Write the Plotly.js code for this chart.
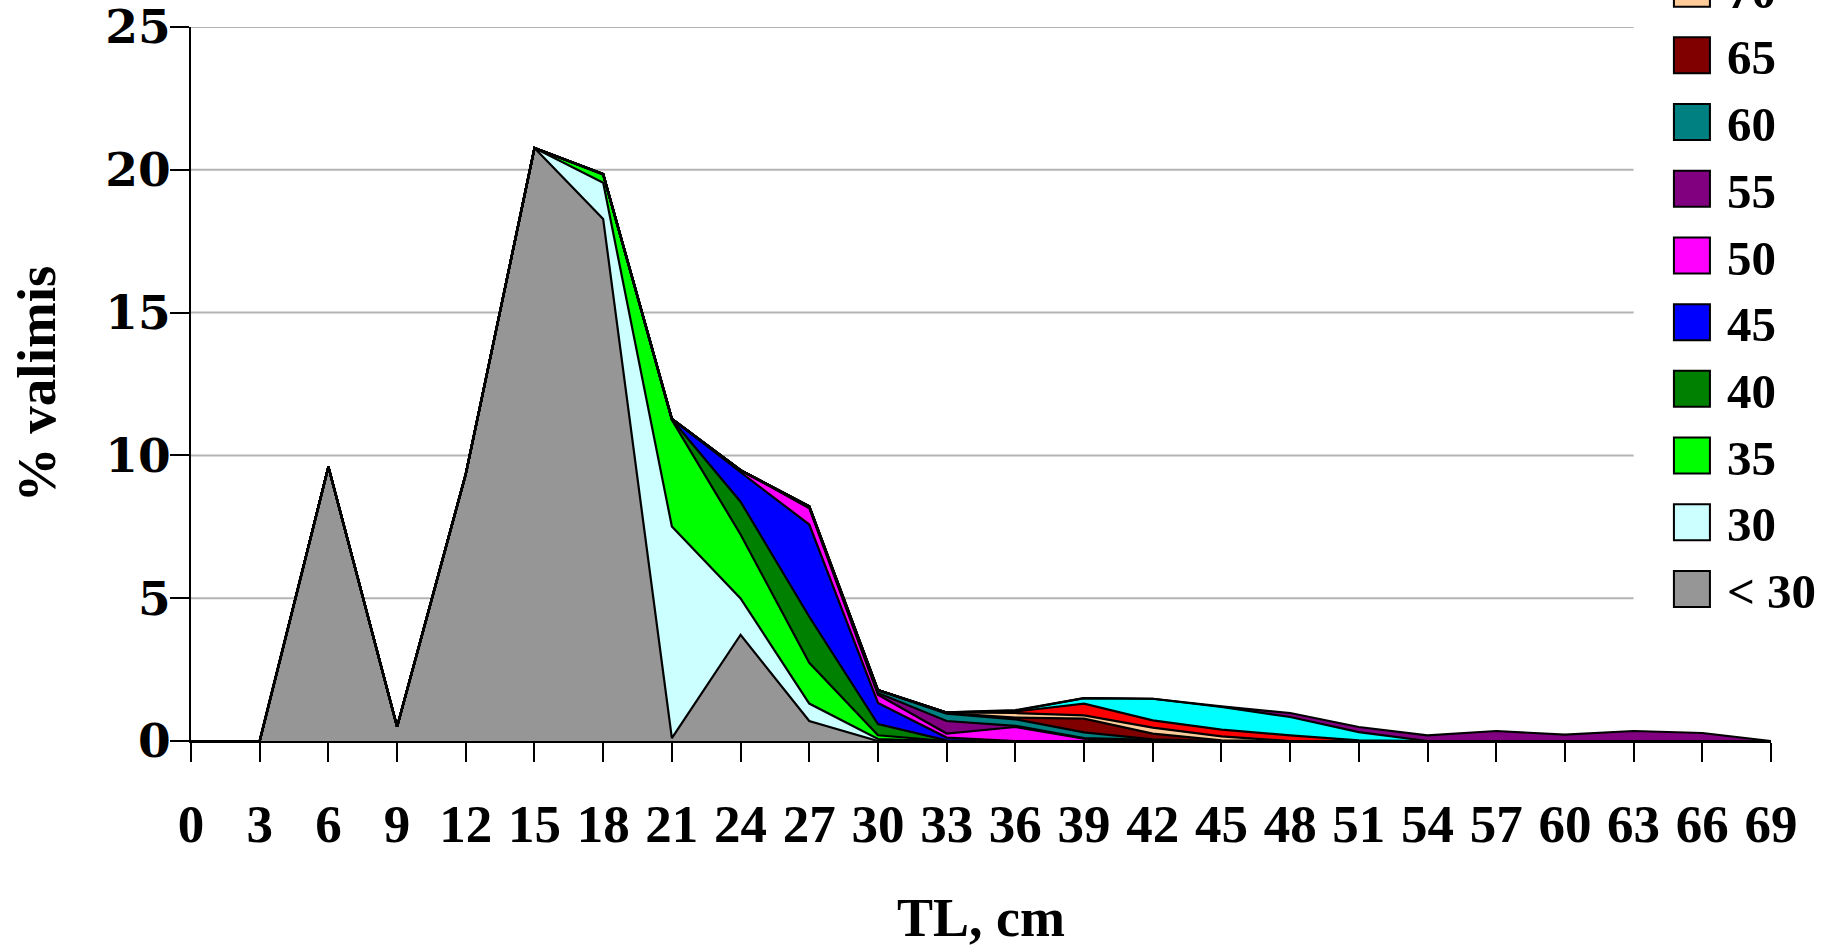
<!DOCTYPE html>
<html>
<head>
<meta charset="utf-8">
<script src="https://cdn.plot.ly/plotly-3.0.1.min.js"></script>
<style>
  html, body { margin: 0; padding: 0; background: #ffffff; }
  #chart { width: 1845px; height: 952px; }
</style>
</head>
<body>
<div id="chart"></div>
<script>
// Length classes (TL, cm) on the category axis
var lengthCm = [0, 3, 6, 9, 12, 15, 18, 21, 24, 27, 30, 33, 36, 39, 42, 45, 48, 51, 54, 57, 60, 63, 66, 69];
var yTicks = [0, 5, 10, 15, 20, 25];

// Series names (stack order, bottom to top)
var seriesNames = ['< 30', '30', '35', '40', '45', '50', '55', '60', '65', '70', '75', '80', '85'];
var seriesColors = ['#969696', '#CCFFFF', '#00FF00', '#008000', '#0000FF', '#FF00FF', '#800080', '#008080', '#800000', '#FFCC99', '#FF0000', '#00FFFF', '#800080'];

// % of sample per length class, one array per series
var sLt30 = [0, 0, 9.6, 0.5, 9.35, 20.76, 18.28, 0.1, 3.72, 0.7, 0, 0, 0, 0, 0, 0, 0, 0, 0, 0, 0, 0, 0, 0];
var s30   = [0, 0, 0, 0, 0, 0, 1.27, 7.41, 1.27, 0.61, 0.07, 0, 0, 0, 0, 0, 0, 0, 0, 0, 0, 0, 0, 0];
var s35   = [0, 0, 0, 0, 0, 0, 0.28, 3.73, 2.24, 1.43, 0.13, 0, 0, 0, 0, 0, 0, 0, 0, 0, 0, 0, 0, 0];
var s40   = [0, 0, 0, 0, 0, 0, 0.02, 0.02, 1.15, 1.61, 0.39, 0.02, 0, 0, 0, 0, 0, 0, 0, 0, 0, 0, 0, 0];
var s45   = [0, 0, 0, 0, 0, 0, 0, 0.02, 1.03, 3.23, 0.74, 0.1, 0, 0, 0, 0, 0, 0, 0, 0, 0, 0, 0, 0];
var s50   = [0, 0, 0, 0, 0, 0, 0, 0, 0.07, 0.57, 0.29, 0.14, 0.49, 0.08, 0.02, 0, 0, 0, 0, 0, 0, 0, 0, 0];
var s55   = [0, 0, 0, 0, 0, 0, 0, 0, 0, 0.05, 0.06, 0.44, 0.04, 0.02, 0.02, 0, 0, 0, 0, 0, 0, 0, 0, 0];
var s60   = [0, 0, 0, 0, 0, 0, 0, 0, 0, 0.02, 0.1, 0.26, 0.23, 0.2, 0.02, 0, 0, 0, 0, 0, 0, 0, 0, 0];
var s65   = [0, 0, 0, 0, 0, 0, 0, 0, 0, 0, 0, 0.02, 0.06, 0.48, 0.2, 0.02, 0, 0, 0, 0, 0, 0, 0, 0];
var s70   = [0, 0, 0, 0, 0, 0, 0, 0, 0, 0, 0, 0.02, 0.16, 0.12, 0.21, 0.14, 0, 0, 0, 0, 0, 0, 0, 0];
var s75   = [0, 0, 0, 0, 0, 0, 0, 0, 0, 0, 0, 0, 0.05, 0.41, 0.25, 0.24, 0.2, 0.02, 0, 0, 0, 0, 0, 0];
var s80   = [0, 0, 0, 0, 0, 0, 0, 0, 0, 0, 0, 0, 0.03, 0.19, 0.76, 0.79, 0.64, 0.29, 0, 0, 0, 0, 0, 0];
var s85   = [0, 0, 0, 0, 0, 0, 0, 0, 0, 0, 0, 0, 0.02, 0, 0, 0.02, 0.14, 0.18, 0.2, 0.35, 0.22, 0.35, 0.28, 0];

var seriesValues = [sLt30, s30, s35, s40, s45, s50, s55, s60, s65, s70, s75, s80, s85];

var serif = '"Liberation Serif", "Times New Roman", serif';
var data = [];

// Stacked areas
seriesValues.forEach(function (vals, i) {
  data.push({
    type: 'scatter',
    mode: 'lines',
    x: lengthCm,
    y: vals,
    name: seriesNames[i],
    stackgroup: 'one',
    fillcolor: seriesColors[i],
    line: { color: '#000000', width: 2.2 },
    showlegend: false,
    hoverinfo: 'skip'
  });
});

// Legend entries (square swatches), top series first
for (var i = seriesNames.length - 1; i >= 0; i--) {
  data.push({
    type: 'scatter',
    mode: 'markers',
    x: [null],
    y: [null],
    name: seriesNames[i],
    showlegend: true,
    marker: { symbol: 'square', size: 16, color: seriesColors[i], line: { color: '#000000', width: 0.9 } },
    hoverinfo: 'skip'
  });
}

// Horizontal gridlines (stop short of the right end, as in the original)
var gridShapes = yTicks.filter(function (v) { return v > 0; }).map(function (v) {
  return {
    type: 'line', xref: 'x', yref: 'y', layer: 'below',
    x0: lengthCm[0], x1: lengthCm[lengthCm.length - 3], y0: v, y1: v,
    line: { color: '#b4b4b4', width: 2 }
  };
});

var layout = {
  width: 1845,
  height: 952,
  paper_bgcolor: '#ffffff',
  plot_bgcolor: '#ffffff',
  margin: { l: 191, r: 74, t: 27, b: 211, autoexpand: false },
  showlegend: true,
  legend: {
    x: 0.9278, xanchor: 'left',
    y: 0.158, yanchor: 'bottom',
    orientation: 'v',
    traceorder: 'normal',
    itemwidth: 60,
    maxheight: 1500,
    bgcolor: 'rgba(0,0,0,0)',
    borderwidth: 0,
    font: { family: serif, size: 49, color: '#000000', weight: 'bold' }
  },
  xaxis: {
    range: [0, 69],
    tickmode: 'array',
    tickvals: lengthCm,
    ticktext: lengthCm.map(String),
    ticks: 'outside', ticklen: 19, tickwidth: 2, tickcolor: '#000000',
    ticklabelstandoff: 16,
    ticklabeloverflow: 'allow',
    showline: true, linecolor: '#000000', linewidth: 2,
    showgrid: false, zeroline: false,
    tickfont: { family: serif, size: 53, color: '#000000', weight: 'bold' },
    title: { text: 'TL, cm', font: { family: serif, size: 54, color: '#000000', weight: 'bold' }, standoff: 47 }
  },
  yaxis: {
    range: [0, 25],
    tickmode: 'array',
    tickvals: yTicks,
    ticktext: yTicks.map(String),
    ticks: 'outside', ticklen: 19, tickwidth: 2, tickcolor: '#000000',
    ticklabelstandoff: -10,
    ticklabeloverflow: 'allow',
    showline: true, linecolor: '#000000', linewidth: 2,
    showgrid: false, zeroline: false,
    tickfont: { family: '"DejaVu Serif", serif', size: 47, color: '#000000', weight: 'bold' },
    title: { text: '% valimis', font: { family: serif, size: 55, color: '#000000', weight: 'bold' }, standoff: 32 }
  },
  shapes: gridShapes
};

Plotly.newPlot('chart', data, layout, { staticPlot: true, displayModeBar: false }).then(function (gd) {
  // enlarge the legend swatches to the original's big squares
  gd.querySelectorAll('.legend .legendpoints path.scatterpts').forEach(function (p) {
    var t = p.getAttribute('transform') || '';
    p.setAttribute('transform', t + ' scale(2.25)');
  });
});
</script>
</body>
</html>
